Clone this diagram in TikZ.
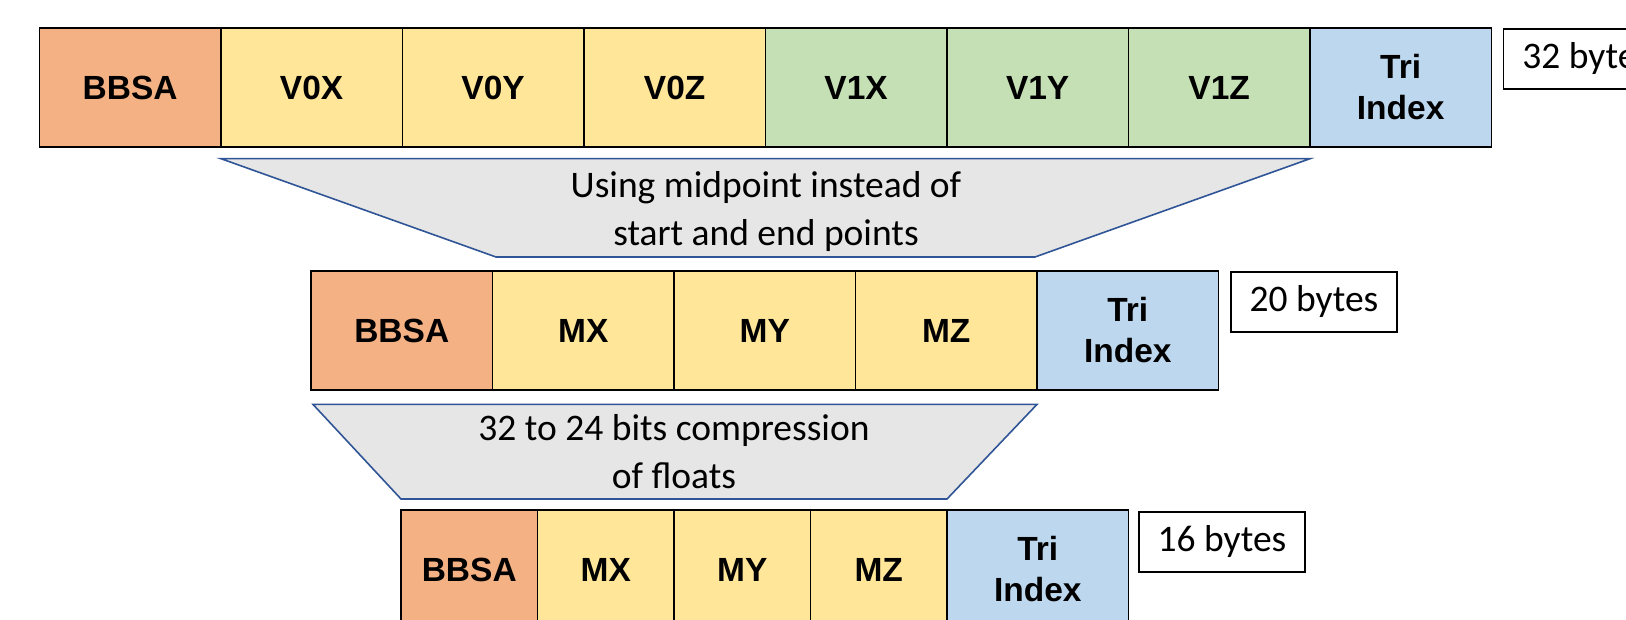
\documentclass[tikz,border=0pt]{standalone}
\usepackage{fontspec}
\setmainfont{Liberation Sans}
\newfontfamily\calib{Carlito}
\definecolor{bbsacol}{HTML}{F4B183}
\definecolor{vzerocol}{HTML}{FFE699}
\definecolor{vonecol}{HTML}{C5E0B4}
\definecolor{tricol}{HTML}{BDD7EE}
\definecolor{funnelfill}{HTML}{E7E6E6}
\definecolor{funneldraw}{HTML}{2F5597}
\tikzset{
  cell/.style={draw=black, line width=1.8pt, anchor=north west, inner sep=0pt, outer sep=0pt,
    minimum height=119pt, minimum width=181.5pt, align=center,
    font=\fontsize{33.5}{41}\selectfont\bfseries},
  narrow/.style={minimum width=136.5pt},
  orangecell/.style={cell, fill=bbsacol},
  yellowcell/.style={cell, fill=vzerocol},
  greencell/.style={cell, fill=vonecol},
  bluecell/.style={cell, fill=tricol},
  sizebox/.style={draw=black, line width=1.2pt, anchor=north west, inner sep=0pt, outer sep=0pt,
    minimum width=166pt, minimum height=60pt, font=\calib\fontsize{37.5}{44}\selectfont},
  funnel/.style={fill=funnelfill, draw=funneldraw, line width=1.6pt, line join=miter},
  funneltext/.style={align=center, inner sep=0pt, font=\calib\fontsize{37.5}{48}\selectfont}
}
\begin{document}
\begin{tikzpicture}[x=1pt, y=-1pt]
\path[use as bounding box, clip] (0,0) rectangle (1626,620);

% full record: two end points
\node[orangecell] (a1) at (39.4,28) {BBSA};
\node[yellowcell] (a2) at (a1.north east) {V0X};
\node[yellowcell] (a3) at (a2.north east) {V0Y};
\node[yellowcell] (a4) at (a3.north east) {V0Z};
\node[greencell]  (a5) at (a4.north east) {V1X};
\node[greencell]  (a6) at (a5.north east) {V1Y};
\node[greencell]  (a7) at (a6.north east) {V1Z};
\node[bluecell]   (a8) at (a7.north east) {Tri\\Index};
\node[sizebox]    (s1) at (1503.7,29) {32 bytes};

% first reduction
\coordinate (f1a) at (221,158.7);
\coordinate (f1b) at (1310,158.7);
\coordinate (f1c) at (1035,257);
\coordinate (f1d) at (496,257);
\draw[funnel] (f1a) -- (f1b) -- (f1c) -- (f1d) -- cycle;
\node[funneltext] (t1) at (766,211.5) {Using midpoint instead of\\start and end points};

% midpoint record
\node[orangecell] (b1) at (311,271) {BBSA};
\node[yellowcell] (b2) at (b1.north east) {MX};
\node[yellowcell] (b3) at (b2.north east) {MY};
\node[yellowcell] (b4) at (b3.north east) {MZ};
\node[bluecell]   (b5) at (b4.north east) {Tri\\Index};
\node[sizebox]    (s2) at (1231,272) {20 bytes};

% second reduction
\coordinate (f2a) at (313,404.4);
\coordinate (f2b) at (1037,404.4);
\coordinate (f2c) at (947,499);
\coordinate (f2d) at (401,499);
\draw[funnel] (f2a) -- (f2b) -- (f2c) -- (f2d) -- cycle;
\node[funneltext] (t2) at (674,451.5) {32 to 24 bits compression\\of floats};

% compressed record
\node[orangecell, narrow] (c1) at (401,510) {BBSA};
\node[yellowcell, narrow] (c2) at (c1.north east) {MX};
\node[yellowcell, narrow] (c3) at (c2.north east) {MY};
\node[yellowcell, narrow] (c4) at (c3.north east) {MZ};
\node[bluecell]           (c5) at (c4.north east) {Tri\\Index};
\node[sizebox]            (s3) at (1139,512) {16 bytes};
\end{tikzpicture}
\end{document}
